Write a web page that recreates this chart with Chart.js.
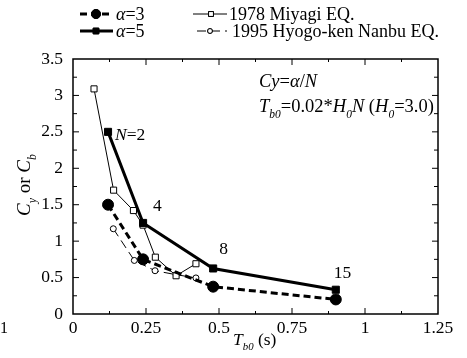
<!DOCTYPE html>
<html>
<head>
<meta charset="utf-8">
<script src="https://cdn.jsdelivr.net/npm/chart.js@4/dist/chart.umd.min.js"></script>
<style>
  html, body { margin: 0; padding: 0; background: #fff; }
  #wrap { width: 467px; height: 358px; }
</style>
</head>
<body>
<div id="wrap"><canvas id="chart"></canvas></div>
<script>
// Period T_b0 (s) for N = 2, 4, 8, 15 stories
const periods = [0.12, 0.24, 0.48, 0.9];
const storyLabels = ['2', '4', '8', '15'];
// Base shear coefficients Cy = alpha / N
const alpha3 = [1.5, 0.75, 0.375, 0.2];
const alpha5 = [2.5, 1.25, 0.625, 0.333];

// Observed coefficients from earthquake damage surveys
const miyagiT = [0.072, 0.139, 0.207, 0.24, 0.282, 0.353, 0.421];
const miyagiC = [3.09, 1.70, 1.42, 1.22, 0.78, 0.525, 0.69];
const hyogoT = [0.138, 0.21, 0.281, 0.353, 0.421];
const hyogoC = [1.17, 0.735, 0.594, 0.54, 0.495];

const xTicks = [0, 0.25, 0.5, 0.75, 1, 1.25];
const yTicks = [0, 0.5, 1, 1.5, 2, 2.5, 3, 3.5];

const SERIF = '"Liberation Serif", "Times New Roman", serif';

function pts(xs, ys) {
  return xs.map((x, i) => ({ x: x, y: ys[i] }));
}

// draws a run of [text, italic, subscript] pieces and returns end x
function drawRich(ctx, parts, x, y, size) {
  parts.forEach(p => {
    const sub = p[2];
    const fs = sub ? size * 0.62 : size;
    ctx.font = (p[1] ? 'italic ' : '') + fs + 'px ' + SERIF;
    ctx.fillText(p[0], x, sub ? y + size * 0.3 : y);
    x += ctx.measureText(p[0]).width;
  });
  return x;
}

const framePlugin = {
  id: 'frame',
  afterDraw(chart) {
    const ctx = chart.ctx;
    const a = chart.chartArea;
    const xs = chart.scales.x, ys = chart.scales.y;
    ctx.save();
    ctx.strokeStyle = '#000';
    ctx.fillStyle = '#000';
    ctx.lineWidth = 1.5;
    ctx.strokeRect(a.left, a.top, a.right - a.left, a.bottom - a.top);

    // inward ticks on all four sides
    ctx.lineWidth = 1;
    ctx.beginPath();
    for (let v = 0.125; v < 1.25; v += 0.125) {
      const px = xs.getPixelForValue(v);
      const len = Math.abs(v / 0.25 - Math.round(v / 0.25)) < 1e-6 ? 6 : 3;
      ctx.moveTo(px, a.bottom); ctx.lineTo(px, a.bottom - len);
      ctx.moveTo(px, a.top); ctx.lineTo(px, a.top + len);
    }
    for (let v = 0.25; v < 3.5; v += 0.25) {
      const py = ys.getPixelForValue(v);
      const len = Math.abs(v / 0.5 - Math.round(v / 0.5)) < 1e-6 ? 6 : 4;
      ctx.moveTo(a.left, py); ctx.lineTo(a.left + len, py);
      ctx.moveTo(a.right, py); ctx.lineTo(a.right - len, py);
    }
    ctx.stroke();

    ctx.textBaseline = 'alphabetic';
    ctx.textAlign = 'left';

    // story count labels next to the alpha = 5 points
    const offs = [[7, 8], [10, -12], [6, -14], [-2, -12]];
    storyLabels.forEach((s, i) => {
      const px = xs.getPixelForValue(periods[i]) + offs[i][0];
      const py = ys.getPixelForValue(alpha5[i]) + offs[i][1];
      if (i === 0) drawRich(ctx, [['N', true], ['=2', false]], px, py, 17.5);
      else drawRich(ctx, [[s, false]], px, py, 17.5);
    });

    // formula notes
    drawRich(ctx, [['Cy', true], ['=', false], ['α', true], ['/', false], ['N', true]], 259, 87, 18.5);
    drawRich(ctx, [['T', true], ['b0', true, true], ['=0.02*', false], ['H', true], ['0', true, true],
      ['N', true], [' (', false], ['H', true], ['0', true, true], ['=3.0)', false]], 259, 112, 18.5);

    // axis titles
    drawRich(ctx, [['T', true], ['b0', true, true], [' (s)', false]], 233, 345, 17.5);
    ctx.save();
    ctx.translate(30, 216);
    ctx.rotate(-Math.PI / 2);
    drawRich(ctx, [['C', true], ['y', true, true], [' or ', false], ['C', true], ['b', true, true]], 0, 0, 19);
    ctx.restore();

    ctx.font = '16px ' + SERIF;
    ctx.fillText('1', 0, 333);

    // legend
    const rows = [
      { ds: 0, x0: 80, x1: 113, mx: 96, y: 14, parts: [['α', true], ['=3', false]], tx: 116 },
      { ds: 1, x0: 80, x1: 113, mx: 96, y: 31, parts: [['α', true], ['=5', false]], tx: 116 },
      { ds: 2, x0: 193, x1: 227, mx: 211, y: 14, parts: [['1978 Miyagi EQ.', false]], tx: 229 },
      { ds: 3, x0: 197, x1: 227, mx: 210, y: 31, parts: [['1995 Hyogo-ken Nanbu EQ.', false]], tx: 232 }
    ];
    rows.forEach(r => {
      const d = chart.data.datasets[r.ds];
      ctx.save();
      ctx.lineWidth = d.borderWidth;
      ctx.setLineDash(d.borderDash || []);
      ctx.beginPath();
      ctx.moveTo(r.x0, r.y); ctx.lineTo(r.x1, r.y);
      ctx.stroke();
      ctx.restore();
      Chart.helpers.drawPoint(ctx, {
        pointStyle: d.pointStyle, radius: r.ds === 0 ? 4.5 : d.pointRadius * 0.8,
        borderWidth: d.pointBorderWidth, rotation: 0
      }, r.mx, r.y);
      ctx.fillStyle = d.pointBackgroundColor;
      ctx.strokeStyle = '#000';
      ctx.fill();
      ctx.stroke();
      ctx.fillStyle = '#000';
      drawRich(ctx, r.parts, r.tx, r.y + 6, 18);
    });
    ctx.restore();
  }
};

const plainNumber = v => String(v);

new Chart(document.getElementById('chart'), {
  type: 'scatter',
  data: {
    datasets: [
      {
        label: 'α=3', data: pts(periods, alpha3), showLine: true,
        borderColor: '#000', borderWidth: 3, borderDash: [7, 4],
        pointStyle: 'circle', pointRadius: 5.5, pointBackgroundColor: '#000',
        pointBorderColor: '#000', pointBorderWidth: 1
      },
      {
        label: 'α=5', data: pts(periods, alpha5), showLine: true,
        borderColor: '#000', borderWidth: 3,
        pointStyle: 'rect', pointRadius: 5, pointBackgroundColor: '#000',
        pointBorderColor: '#000', pointBorderWidth: 1
      },
      {
        label: '1978 Miyagi EQ.', data: pts(miyagiT, miyagiC), showLine: true,
        borderColor: '#000', borderWidth: 1,
        pointStyle: 'rect', pointRadius: 4.3, pointBackgroundColor: '#fff',
        pointBorderColor: '#000', pointBorderWidth: 1
      },
      {
        label: '1995 Hyogo-ken Nanbu EQ.', data: pts(hyogoT, hyogoC), showLine: true,
        borderColor: '#000', borderWidth: 1, borderDash: [9, 5],
        pointStyle: 'circle', pointRadius: 3, pointBackgroundColor: '#fff',
        pointBorderColor: '#000', pointBorderWidth: 1
      }
    ]
  },
  options: {
    responsive: true,
    maintainAspectRatio: false,
    animation: false,
    layout: { padding: { top: 59, right: 29, left: 0, bottom: 0 } },
    plugins: { legend: { display: false }, tooltip: { enabled: false } },
    scales: {
      x: {
        type: 'linear', min: 0, max: 1.25,
        afterBuildTicks: s => { s.ticks = xTicks.map(v => ({ value: v })); },
        ticks: { color: '#000', padding: 4, font: { family: SERIF, size: 17.5 }, maxRotation: 0, callback: plainNumber },
        grid: { display: false, drawTicks: false },
        border: { display: false },
        afterFit: s => { s.height = 44; }
      },
      y: {
        type: 'linear', min: 0, max: 3.5,
        afterBuildTicks: s => { s.ticks = yTicks.map(v => ({ value: v })); },
        ticks: { color: '#000', padding: 10, font: { family: SERIF, size: 17.5 }, callback: plainNumber },
        grid: { display: false, drawTicks: false },
        border: { display: false },
        afterFit: s => { s.width = 73; }
      }
    }
  },
  plugins: [framePlugin]
});
</script>
</body>
</html>
